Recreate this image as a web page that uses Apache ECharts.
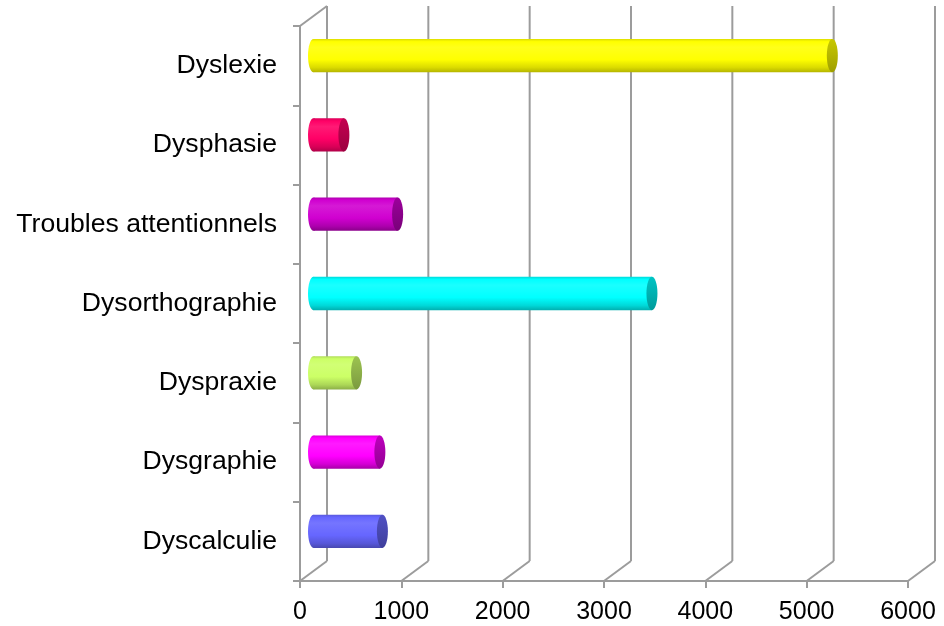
<!DOCTYPE html>
<html>
<head>
<meta charset="utf-8">
<script src="https://cdn.jsdelivr.net/npm/echarts@6/dist/echarts.min.js"></script>
<style>
  html, body { margin: 0; padding: 0; background: #fff; }
  #chart { width: 944px; height: 626px; }
</style>
</head>
<body>
<div id="chart"></div>
<script>
// categories from bottom to top
const categories = ['Dyscalculie', 'Dysgraphie', 'Dyspraxie', 'Dysorthographie', 'Troubles attentionnels', 'Dysphasie', 'Dyslexie'];
const counts = [680, 655, 425, 3340, 830, 300, 5120];
const xTicks = [0, 1000, 2000, 3000, 4000, 5000, 6000];

const barColors = ['#6666ff', '#ff00ff', '#ccff66', '#00ffff', '#d000d0', '#ff0066', '#ffff00'];
const capColors = ['#4848b0', '#a800a8', '#8caf48', '#00b0b0', '#8a008a', '#b00048', '#b4b400'];

// fake 3d depth of the plot box
const DX = 27;
const DY = -20;
const gridColor = '#9c9c9c';
const font = '"Liberation Sans", Arial, sans-serif';

function mix(a, b, t) {
  const pa = parseInt(a.slice(1), 16), pb = parseInt(b.slice(1), 16);
  const ch = (p, s) => (p >> s) & 255;
  const r = Math.round(ch(pa, 16) * (1 - t) + ch(pb, 16) * t);
  const g = Math.round(ch(pa, 8) * (1 - t) + ch(pb, 8) * t);
  const bl = Math.round(ch(pa, 0) * (1 - t) + ch(pb, 0) * t);
  return '#' + ((1 << 24) + (r << 16) + (g << 8) + bl).toString(16).slice(1);
}

function renderWall(params, api) {
  const cs = params.coordSys;
  const x = api.coord([api.value(0), 0])[0];
  const top = cs.y;
  const bottom = cs.y + cs.height;
  const style = { stroke: gridColor, lineWidth: 2 };
  const children = [
    { type: 'line', shape: { x1: x, y1: bottom, x2: x + DX, y2: bottom + DY }, style: style },
    { type: 'line', shape: { x1: x + DX, y1: bottom + DY, x2: x + DX, y2: top + DY }, style: style }
  ];
  if (params.dataIndex === 0) {
    children.push({ type: 'line', shape: { x1: x, y1: top, x2: x + DX, y2: top + DY }, style: style });
  }
  return { type: 'group', children: children };
}

function renderCylinder(params, api) {
  const i = api.value(1);
  const s = api.coord([0, i]);
  const e = api.coord([api.value(0), i]);
  const h = api.size([0, 1])[1] * 0.42;
  const rx = 5.5;
  const cy = s[1] + DY / 2;
  const x0 = s[0] + DX / 2;
  const x1 = e[0] + DX / 2;
  const base = barColors[params.dataIndex];
  const dark = capColors[params.dataIndex];
  const body = () => new echarts.graphic.LinearGradient(0, 0, 0, 1, [
    { offset: 0, color: mix(base, dark, 0.45) },
    { offset: 0.08, color: base },
    { offset: 0.25, color: mix(base, '#ffffff', 0.1) },
    { offset: 0.62, color: base },
    { offset: 0.86, color: mix(base, dark, 0.5) },
    { offset: 1, color: dark }
  ]);
  const capFill = new echarts.graphic.LinearGradient(0, 0, 0, 1, [
    { offset: 0, color: mix(dark, base, 0.25) },
    { offset: 0.5, color: dark },
    { offset: 1, color: mix(dark, '#000000', 0.12) }
  ]);
  return {
    type: 'group',
    children: [
      { type: 'ellipse', shape: { cx: x0, cy: cy, rx: rx, ry: h / 2 }, style: { fill: body() } },
      { type: 'rect', shape: { x: x0, y: cy - h / 2, width: x1 - x0, height: h }, style: { fill: body() } },
      { type: 'ellipse', shape: { cx: x1, cy: cy, rx: rx, ry: h / 2 }, style: { fill: capFill } }
    ]
  };
}

const chart = echarts.init(document.getElementById('chart'));

chart.setOption({
  animation: false,
  grid: { left: 300, right: 36, top: 26, bottom: 45 },
  xAxis: {
    type: 'value',
    min: 0,
    max: 6000,
    interval: 1000,
    axisLine: { show: true, lineStyle: { color: gridColor, width: 2 } },
    axisTick: { show: true, length: 7, lineStyle: { color: gridColor, width: 2 } },
    splitLine: { show: false },
    axisLabel: { color: '#000', fontSize: 25, fontFamily: font, margin: 19, formatter: v => String(v) }
  },
  yAxis: {
    type: 'category',
    data: categories,
    axisLine: { show: true, lineStyle: { color: gridColor, width: 2 } },
    axisTick: { show: true, length: 7, lineStyle: { color: gridColor, width: 2 } },
    splitLine: { show: false },
    axisLabel: { color: '#000', fontSize: 26.6, fontFamily: font, margin: 23, padding: [4, 0, 0, 0] }
  },
  series: [
    {
      type: 'custom',
      clip: false,
      silent: true,
      z: 1,
      data: xTicks.map(v => [v, 0]),
      encode: { x: 0, y: 1 },
      renderItem: renderWall
    },
    {
      type: 'custom',
      clip: false,
      z: 3,
      data: counts.map((v, i) => [v, i]),
      encode: { x: 0, y: 1 },
      renderItem: renderCylinder
    }
  ]
});
</script>
</body>
</html>
